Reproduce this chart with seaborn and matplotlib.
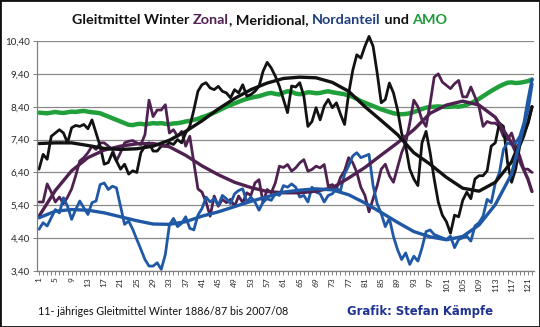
import numpy as np
import pandas as pd
import matplotlib
matplotlib.use("Agg")
import matplotlib.pyplot as plt
import seaborn as sns
from matplotlib.patches import Rectangle

# ---------------- data ----------------
years = list(range(1, 123))

zonal = [5.5, 5.5, 6.05, 5.8, 5.5, 5.65, 5.45, 5.65, 5.9, 6.3,
         6.75, 6.85, 7.0, 7.2, 7.1, 7.3, 7.3, 7.2, 7.1, 6.75,
         7.0, 7.3, 7.35, 7.37, 7.3, 7.25, 7.55, 8.6, 8.1, 8.3, 8.3,
         8.46, 7.6, 7.7, 7.5, 7.65, 7.2, 7.5, 6.7, 5.9, 5.8,
         5.5, 5.07, 5.68, 5.37, 5.58, 5.48, 5.58, 5.37, 5.68, 5.48,
         5.78, 5.7, 6.08, 6.18, 5.48, 5.88, 5.78, 6.08, 6.59, 6.55, 6.64,
         6.44, 6.54, 6.69, 6.79, 6.44, 6.49, 6.59, 6.54, 6.64, 5.98,
         6.03, 5.9, 6.25, 6.45, 6.85, 6.7, 6.4, 5.95, 5.7, 5.2,
         5.6, 6.0, 6.5, 6.65, 6.3, 6.1, 6.55, 7.0, 7.3,
         7.9, 8.6, 8.4, 8.0, 7.8, 8.5, 9.3, 9.4, 9.15, 9.05,
         8.95, 9.1, 9.2, 8.7, 8.7, 9.0, 8.7, 8.4, 7.8, 7.95,
         7.9, 7.9, 7.8, 7.5, 7.4, 7.6, 7.2, 6.9, 6.5, 6.5, 6.4]

meridional = [6.5, 6.95, 6.8, 7.5, 7.6, 7.7, 7.6, 7.3, 7.76, 7.83,
              7.8, 7.86, 7.73, 8.0, 7.6, 7.2, 6.65, 6.7, 7.0, 6.75,
              6.5, 6.65, 6.35, 6.45, 6.4, 7.0, 7.2, 7.3, 7.05, 7.05, 7.2,
              7.2, 7.3, 7.25, 7.4, 7.3, 7.6, 7.8, 8.3, 8.87, 9.07,
              9.13, 8.97, 8.92, 9.02, 8.87, 8.82, 8.67, 8.92, 8.82, 9.07,
              8.72, 8.77, 8.87, 9.02, 9.48, 9.75, 9.58, 9.33, 9.02, 8.62, 8.22,
              9.03, 9.0, 9.13, 8.72, 7.8, 7.95, 8.37, 8.0, 8.42, 8.62,
              8.37, 8.52, 8.17, 7.86, 8.8, 9.5, 9.98, 9.88, 10.24, 10.54,
              10.24, 9.43, 8.52, 8.62, 9.12, 8.82, 8.31, 7.6, 7.2, 6.5, 6.2,
              6.0, 7.3, 7.65, 7.0, 6.2, 5.5, 5.1, 4.9, 4.55, 5.1,
              5.05, 5.55, 5.8, 5.6, 6.2, 6.3, 6.3, 6.45, 7.2, 7.3,
              7.9, 7.8, 6.7, 6.1, 6.5, 7.2, 7.5, 7.9, 8.4]

nordanteil = [4.67, 4.87, 4.77, 5.02, 5.27, 5.17, 5.63, 5.37, 4.97, 5.27,
              5.53, 5.32, 5.12, 5.48, 5.53, 6.03, 6.08, 5.88, 5.98, 5.93,
              5.37, 4.82, 4.92, 4.67, 4.36, 4.06, 3.75, 3.55, 3.55, 3.65, 3.45,
              3.9, 4.8, 5.0, 4.75, 4.85, 5.05, 4.7, 4.65, 5.1, 5.3,
              5.65, 5.5, 5.6, 5.4, 5.7, 5.6, 5.45, 5.75, 5.85, 5.9,
              5.5, 5.65, 5.5, 5.25, 5.5, 5.6, 5.55, 5.75, 5.7, 6.0, 5.95,
              6.05, 5.95, 5.65, 5.7, 5.5, 5.95, 5.8, 5.75, 5.5, 5.7,
              5.75, 5.9, 5.85, 6.35, 6.6, 6.9, 7.0, 6.85, 6.9, 6.95,
              6.0, 5.45, 5.15, 4.75, 5.0, 4.45, 4.05, 3.75, 3.95, 3.6, 3.85,
              3.7, 4.1, 4.6, 4.65, 4.51, 4.46, 4.41, 4.36, 4.46, 4.11,
              4.36, 4.41, 4.46, 4.31, 4.77, 4.87, 5.07, 5.58, 5.48, 6.08,
              6.39, 7.1, 7.3, 7.25, 7.3, 7.5, 7.9, 8.62, 9.25]

amo = [8.22, 8.21, 8.20, 8.22, 8.24, 8.22, 8.21, 8.23, 8.25, 8.24,
       8.26, 8.27, 8.25, 8.23, 8.22, 8.20, 8.15, 8.10, 8.05, 8.00,
       7.95, 7.90, 7.85, 7.84, 7.87, 7.88, 7.86, 7.88, 7.90, 7.89,
       7.90, 7.88, 7.87, 7.89, 7.90, 7.92, 7.95, 7.97, 8.00, 8.03,
       8.08, 8.12, 8.17, 8.22, 8.28, 8.34, 8.40, 8.45, 8.50, 8.55,
       8.60, 8.64, 8.67, 8.70, 8.72, 8.76, 8.80, 8.82, 8.79, 8.77,
       8.83, 8.87, 8.85, 8.80, 8.78, 8.80, 8.84, 8.83, 8.81, 8.82,
       8.85, 8.87, 8.84, 8.82, 8.80, 8.78, 8.74, 8.70, 8.64, 8.57,
       8.52, 8.47, 8.42, 8.37, 8.32, 8.28, 8.24, 8.20, 8.18, 8.17,
       8.18, 8.20, 8.24, 8.28, 8.33, 8.37, 8.39, 8.40, 8.41, 8.40,
       8.39, 8.40, 8.41, 8.40, 8.42, 8.46, 8.51, 8.57, 8.64, 8.72,
       8.80, 8.88, 8.95, 9.02, 9.08, 9.13, 9.14, 9.12, 9.13, 9.15, 9.18, 9.22]

# trend lines (read at every 4th year)
trend_x = [1, 5, 9, 13, 17, 21, 25, 29, 33, 37, 41, 45, 49, 53, 57, 61,
           65, 69, 73, 77, 81, 85, 89, 93, 97, 101, 105, 109, 113, 117, 121, 122]
zonal_trend = [5.07, 5.85, 6.45, 6.85, 7.08, 7.2, 7.27, 7.28, 7.18, 6.92, 6.6,
               6.33, 6.1, 5.94, 5.82, 5.78, 5.78, 5.83, 5.93, 6.23, 6.55, 6.93,
               7.3, 7.7, 8.2, 8.45, 8.57, 8.45, 8.08, 7.3, 6.2, 5.82]
meridional_trend = [7.28, 7.3, 7.3, 7.22, 7.13, 7.1, 7.12, 7.2, 7.38, 7.65, 7.97,
                    8.33, 8.65, 8.92, 9.12, 9.26, 9.3, 9.28, 9.14, 8.87, 8.4, 7.98,
                    7.55, 7.0, 6.65, 6.25, 5.92, 5.83, 6.1, 6.72, 7.9, 8.4]
nordanteil_trend = [5.02, 5.22, 5.27, 5.25, 5.17, 5.05, 4.93, 4.83, 4.82, 4.9, 5.07,
                    5.2, 5.36, 5.52, 5.66, 5.8, 5.86, 5.9, 5.87, 5.72, 5.47, 5.18,
                    4.88, 4.6, 4.44, 4.35, 4.45, 4.8, 5.42, 6.35, 8.3, 9.1]

y_ticks = [3.4, 4.4, 5.4, 6.4, 7.4, 8.4, 9.4, 10.4]
y_ticklabels = ["3,40", "4,40", "5,40", "6,40", "7,40", "8,40", "9,40", "10,40"]
x_ticklabels = [str(v) if (v - 1) % 4 == 0 else "" for v in years]

title_parts = [("Gleitmittel Winter ", "#111111"), ("Zonal", "#4e2150"),
               (", Meridional, ", "#111111"), ("Nordanteil", "#1f3f7e"),
               (" und ", "#111111"), ("AMO", "#1e9a3a")]
left_note = "11- jähriges Gleitmittel Winter 1886/87 bis 2007/08"
right_note = "Grafik: Stefan Kämpfe"

C_ZON = "#4e2150"
C_MER = "#121212"
C_NORD = "#1f58a5"
C_AMO = "#20a03a"

df = pd.DataFrame({"Jahr": years, "Zonal": zonal, "Meridional": meridional,
                   "Nordanteil": nordanteil, "AMO": amo})
tdf = pd.DataFrame({"x": trend_x, "Zonal": zonal_trend,
                    "Meridional": meridional_trend, "Nordanteil": nordanteil_trend})

# ---------------- figure ----------------
sns.set_style("white")
plt.rcParams['font.family'] = ['Lato', 'DejaVu Sans']

W, H = 540, 327
fig = plt.figure(figsize=(W / 100, H / 100), dpi=100)
ax = fig.add_axes([37 / W, 56 / H, 497 / W, 230 / H])

common = dict(ax=ax, clip_on=False, solid_joinstyle="round", solid_capstyle="round")
sns.lineplot(data=df, x="Jahr", y="AMO", color=C_AMO, linewidth=3.2, **common)
sns.lineplot(data=df, x="Jahr", y="Zonal", color=C_ZON, linewidth=2.0, **common)
sns.lineplot(data=df, x="Jahr", y="Meridional", color=C_MER, linewidth=2.0, **common)
sns.lineplot(data=df, x="Jahr", y="Nordanteil", color=C_NORD, linewidth=2.0, **common)
sns.lineplot(data=tdf, x="x", y="Zonal", color=C_ZON, linewidth=2.4, **common)
sns.lineplot(data=tdf, x="x", y="Meridional", color=C_MER, linewidth=2.4, **common)
sns.lineplot(data=tdf, x="x", y="Nordanteil", color=C_NORD, linewidth=2.4, **common)

ax.set_xlim(0.5, 122.5)
ax.set_ylim(3.4, 10.4)
ax.set_xlabel("")
ax.set_ylabel("")
ax.set_yticks(y_ticks)
ax.set_yticklabels(y_ticklabels, fontsize=7)
ax.set_xticks(years)
ax.set_xticklabels(x_ticklabels, rotation=90, fontsize=6)
ax.tick_params(axis="x", length=3, width=0.7, color="#808080", pad=1.5, bottom=True)
ax.tick_params(axis="y", length=3, width=0.7, color="#808080", pad=2, left=True)
ax.grid(axis="y", color="#8a8a8a", linewidth=0.9)
ax.grid(axis="x", visible=False)
ax.set_axisbelow(True)
for s in ["top", "right"]:
    ax.spines[s].set_visible(False)
for s in ["left", "bottom"]:
    ax.spines[s].set_color("#808080")
    ax.spines[s].set_linewidth(0.9)

# ---------------- texts ----------------
r = fig.canvas.get_renderer()


def width_of(s, size, weight, family):
    t = fig.text(0, 0, s + "|", fontsize=size, fontweight=weight, family=family, transform=None)
    w1 = t.get_window_extent(renderer=r).width
    t.remove()
    t = fig.text(0, 0, "|", fontsize=size, fontweight=weight, family=family, transform=None)
    w2 = t.get_window_extent(renderer=r).width
    t.remove()
    return w1 - w2


def fitted_size(s, target, weight, family, base=10):
    return base * target / width_of(s, base, weight, family)


fam = ['Lato', 'DejaVu Sans']
full_title = "".join(p for p, _ in title_parts)
tsize = fitted_size(full_title, 376, "bold", fam)
x0 = 72
acc = ""
for part, col in title_parts:
    xo = x0 + width_of(acc, tsize, "bold", fam) if acc else x0
    fig.text(xo, H - 24, part, color=col, fontsize=tsize, fontweight="bold",
             family=fam, transform=None, va="baseline", ha="left")
    acc += part

lsize = fitted_size(left_note, 250, "normal", fam)
fig.text(38, H - 315, left_note, color="#111111", fontsize=lsize, family=fam,
         transform=None, va="baseline", ha="left")

rfam = ['DejaVu Sans']
rsize = fitted_size(right_note, 146, "bold", rfam)
fig.text(347, H - 315, right_note, color="#1f3391", fontsize=rsize, fontweight="bold",
         family=rfam, transform=None, va="baseline", ha="left")

fig.patches.append(Rectangle((0, 0), 1, 1, transform=fig.transFigure, fill=False,
                             edgecolor="#111111", linewidth=2.0))

fig.savefig("out.png", dpi=100)
